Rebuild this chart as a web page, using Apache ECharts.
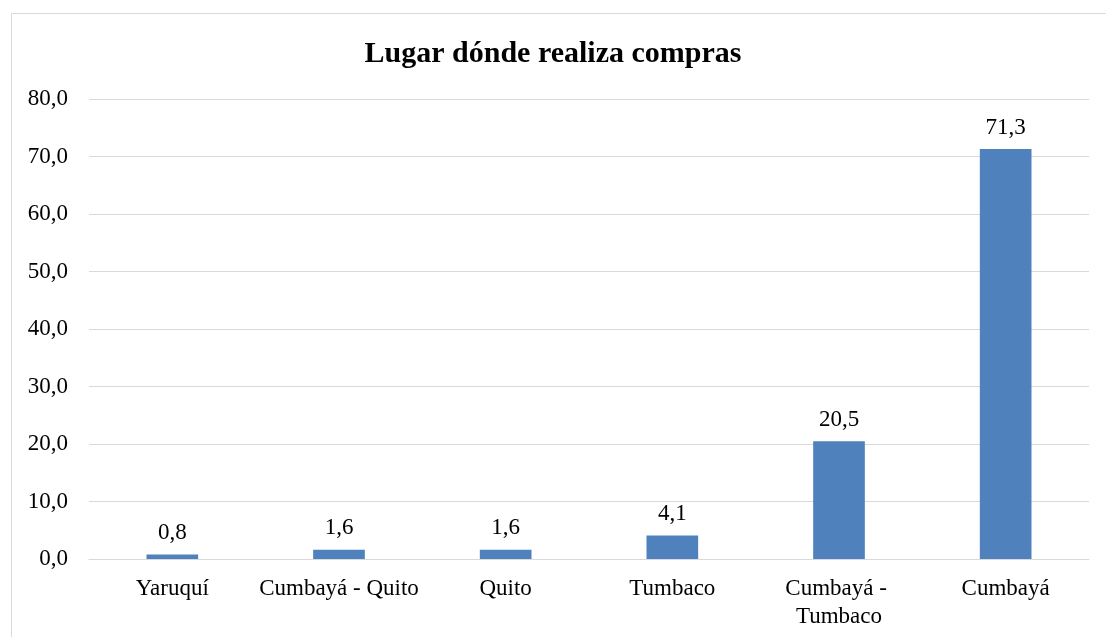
<!DOCTYPE html>
<html>
<head>
<meta charset="utf-8">
<script src="https://cdn.jsdelivr.net/npm/echarts@6/dist/echarts.min.js"></script>
<style>
  html, body { margin: 0; padding: 0; background: #ffffff; }
  #chart { width: 1106px; height: 637px; }
</style>
</head>
<body>
<div id="chart"></div>
<script>
// Lugares de compra y porcentaje de respuestas
const categories = ['Yaruquí', 'Cumbayá - Quito', 'Quito', 'Tumbaco', 'Cumbayá - Tumbaco', 'Cumbayá'];
const percentages = [0.8, 1.6, 1.6, 4.1, 20.5, 71.3];
const titleText = 'Lugar dónde realiza compras';

const fmt = v => v.toFixed(1).replace('.', ',');
const serif = '"Liberation Serif", "Times New Roman", serif';

const chart = echarts.init(document.getElementById('chart'), null, { renderer: 'canvas' });
chart.setOption({
  animation: false,
  backgroundColor: '#ffffff',
  graphic: [{
    type: 'rect',
    left: 9, top: 11,
    shape: { width: 1200, height: 700 },
    style: { fill: 'none', stroke: '#d9d9d9', lineWidth: 1 },
    silent: true
  }],
  title: {
    text: titleText,
    left: 'center',
    top: 34,
    textStyle: { fontFamily: serif, fontSize: 30, fontWeight: 'bold', color: '#000000' }
  },
  grid: { left: 89, right: 17, top: 99, bottom: 78, containLabel: false },
  xAxis: {
    type: 'category',
    data: categories,
    axisLine: { show: true, lineStyle: { color: '#d9d9d9', width: 1 } },
    axisTick: { show: false },
    axisLabel: {
      fontFamily: serif, fontSize: 23, color: '#000000', margin: 16,
      interval: 0, width: 185, overflow: 'break', lineHeight: 28
    }
  },
  yAxis: {
    type: 'value',
    min: 0, max: 80, interval: 10,
    axisLine: { show: false },
    axisTick: { show: false },
    splitLine: { lineStyle: { color: '#d9d9d9', width: 1 } },
    axisLabel: {
      fontFamily: serif, fontSize: 23, color: '#000000', margin: 21,
      formatter: v => fmt(v)
    }
  },
  series: [{
    type: 'bar',
    data: percentages,
    barWidth: '31%',
    itemStyle: { color: '#4f81bd' },
    label: {
      show: true, position: 'top', distance: 10,
      fontFamily: serif, fontSize: 23, color: '#000000',
      formatter: p => fmt(p.value)
    }
  }]
});
</script>
</body>
</html>
